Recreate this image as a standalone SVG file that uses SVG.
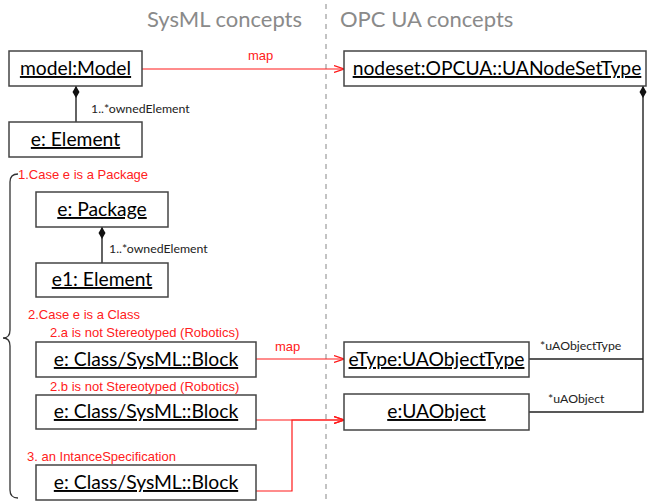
<svg xmlns="http://www.w3.org/2000/svg" width="647" height="504" viewBox="0 0 647 504">
  <style>
    .box { fill: #ffffff; stroke: #444444; stroke-width: 1.5; }
    .name { font-family: Lato, "Open Sans", sans-serif; font-size: 19.3px; fill: #000000; text-anchor: middle; text-decoration: underline; }
    .title { font-family: Lato, "Open Sans", sans-serif; font-size: 22px; fill: #8a8a8a; }
    .role { font-family: Lato, "Open Sans", sans-serif; font-size: 12.3px; fill: #222222; }
    .case { font-family: "Liberation Sans", Arial, sans-serif; font-size: 13px; fill: #ff2020; }
    .assoc { fill: none; stroke: #222222; stroke-width: 1.4; }
    .map { fill: none; stroke: #ff1a1a; stroke-width: 1.2; }
  </style>
  <defs>
    <marker id="diamond" viewBox="0 0 12 8" refX="0" refY="4" markerWidth="12" markerHeight="8" markerUnits="userSpaceOnUse" orient="auto">
      <path d="M0,4 L6,0.5 L12,4 L6,7.5 Z" fill="#111111"/>
    </marker>
    <marker id="open" viewBox="0 0 10 8" refX="10" refY="4" markerWidth="10" markerHeight="8" markerUnits="userSpaceOnUse" orient="auto">
      <path d="M0,0.5 L10,4 L0,7.5" fill="none" stroke="#ff1a1a" stroke-width="1.2"/>
    </marker>
  </defs>

  <!-- column headings and separator -->
  <text class="title" x="147" y="27">SysML concepts</text>
  <text class="title" x="340" y="27">OPC UA concepts</text>
  <line x1="326" y1="4" x2="326" y2="504" stroke="#b0b0b0" stroke-width="1.5" stroke-dasharray="5,5"/>

  <!-- case brace -->
  <path d="M18,174 Q10,174 10,182 L10,330 Q10,338 3,338 Q10,338 10,346 L10,490 Q10,498 18,498" fill="none" stroke="#333333" stroke-width="1.3"/>

  <g id="connectors">
    <!-- compositions -->
    <path class="assoc" d="M76,86 V122" marker-start="url(#diamond)"/>
    <text class="role" x="91" y="113">1..*ownedElement</text>
    <path class="assoc" d="M102,227 V263" marker-start="url(#diamond)"/>
    <text class="role" x="109" y="253">1..*ownedElement</text>
    <path class="assoc" d="M643,86 V412 H529" marker-start="url(#diamond)"/>
    <path class="assoc" d="M643,359 H529"/>
    <text class="role" x="540" y="350">*uAObjectType</text>
    <text class="role" x="548" y="403">*uAObject</text>

    <!-- mappings -->
    <path class="map" d="M142,69 H344" marker-end="url(#open)"/>
    <text class="case" x="248" y="60">map</text>
    <path class="map" d="M256,359 H344" marker-end="url(#open)"/>
    <text class="case" x="275" y="351">map</text>
    <path class="map" d="M256,420 H344" marker-end="url(#open)"/>
    <path class="map" d="M256,491 H292 V420 H344" marker-end="url(#open)"/>
  </g>

  <!-- case labels -->
  <text class="case" x="18" y="179">1.Case e is a Package</text>
  <text class="case" x="28" y="319">2.Case e is a Class</text>
  <text class="case" x="50" y="337">2.a is not Stereotyped (Robotics)</text>
  <text class="case" x="50" y="391">2.b is not Stereotyped (Robotics)</text>
  <text class="case" x="27" y="461">3. an IntanceSpecification</text>

  <g id="model">
    <rect class="box" x="9" y="51" width="133" height="35"/>
    <text class="name" x="75.5" y="75">model:Model</text>
  </g>
  <g id="element">
    <rect class="box" x="9" y="122" width="133" height="35"/>
    <text class="name" x="75.5" y="146">e: Element</text>
  </g>
  <g id="package">
    <rect class="box" x="36" y="192" width="132" height="35"/>
    <text class="name" x="102" y="216">e: Package</text>
  </g>
  <g id="element1">
    <rect class="box" x="36" y="263" width="132" height="34"/>
    <text class="name" x="102" y="286">e1: Element</text>
  </g>
  <g id="block-a">
    <rect class="box" x="36" y="342" width="220" height="35"/>
    <text class="name" x="146" y="366">e: Class/SysML::Block</text>
  </g>
  <g id="block-b">
    <rect class="box" x="36" y="395" width="220" height="34"/>
    <text class="name" x="146" y="418">e: Class/SysML::Block</text>
  </g>
  <g id="block-c">
    <rect class="box" x="36" y="465" width="220" height="35"/>
    <text class="name" x="146" y="489">e: Class/SysML::Block</text>
  </g>
  <g id="nodeset">
    <rect class="box" x="344" y="51" width="302" height="35"/>
    <text class="name" x="497" y="75">nodeset:OPCUA::UANodeSetType</text>
  </g>
  <g id="eType">
    <rect class="box" x="344" y="342" width="185" height="35"/>
    <text class="name" x="436.5" y="366">eType:UAObjectType</text>
  </g>
  <g id="uaObject">
    <rect class="box" x="344" y="394" width="185" height="36"/>
    <text class="name" x="436.5" y="418">e:UAObject</text>
  </g>
</svg>
